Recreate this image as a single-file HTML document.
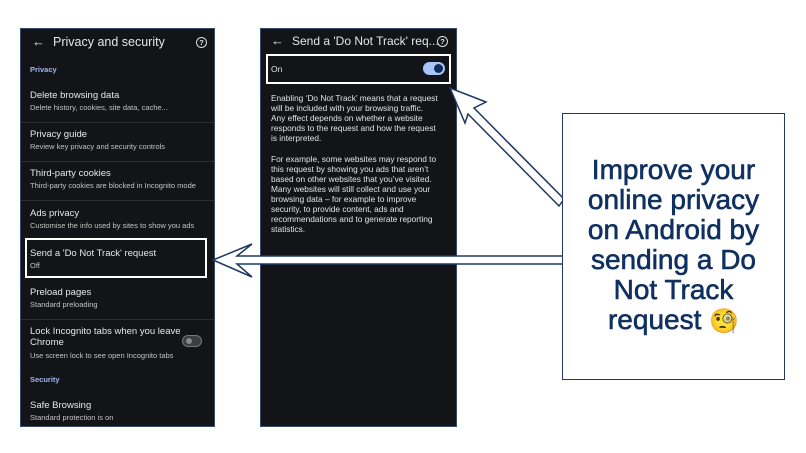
<!DOCTYPE html>
<html><head><meta charset="utf-8"><style>
body{margin:0;width:806px;height:453px;background:#fff;position:relative;overflow:hidden;font-family:"Liberation Sans",sans-serif}
.ph{position:absolute;background:#131418;border:1px solid #3a4a6a;color:#e6e6e6}
.t{position:absolute;white-space:nowrap}
.a{font-size:9.5px;color:#e8e8e8}
.s{font-size:7.5px;color:#c4c4c4}
.h{font-size:7.5px;color:#9fb6f0;font-weight:bold}
.d{position:absolute;left:0;right:0;height:1px;background:#2c2e33}
.p{position:absolute;left:10px;top:64px;font-size:8.3px;line-height:10.1px;color:#e4e4e4;width:168px}
.q{position:absolute;width:9px;height:9px;border:1.3px solid #ddd;border-radius:50%;font-size:7.5px;line-height:9px;text-align:center;font-weight:bold}
</style></head><body>
<div class="ph" style="left:20px;top:28px;width:193px;height:397px">
 <div class="t" style="left:11px;top:5px;font-size:13px">←</div>
 <div class="t" style="left:32px;top:6px;font-size:12.5px">Privacy and security</div>
 <div class="q" style="left:175px;top:8px">?</div>
 <div class="t h" style="left:9px;top:36px">Privacy</div>
 <div class="t a" style="left:9px;top:61px">Delete browsing data</div>
 <div class="t s" style="left:9px;top:74px">Delete history, cookies, site data, cache...</div>
 <div class="d" style="top:93px"></div>
 <div class="t a" style="left:9px;top:100px">Privacy guide</div>
 <div class="t s" style="left:9px;top:113px">Review key privacy and security controls</div>
 <div class="d" style="top:132px"></div>
 <div class="t a" style="left:9px;top:139px">Third-party cookies</div>
 <div class="t s" style="left:9px;top:152px">Third-party cookies are blocked in Incognito mode</div>
 <div class="d" style="top:171px"></div>
 <div class="t a" style="left:9px;top:179px">Ads privacy</div>
 <div class="t s" style="left:9px;top:192px">Customise the info used by sites to show you ads</div>
 <div style="position:absolute;left:4px;top:209px;width:182px;height:40px;border:2px solid #fff;box-sizing:border-box"></div>
 <div class="t a" style="left:9px;top:219px">Send a 'Do Not Track' request</div>
 <div class="t s" style="left:9px;top:232px">Off</div>
 <div class="t a" style="left:9px;top:258px">Preload pages</div>
 <div class="t s" style="left:9px;top:271px">Standard preloading</div>
 <div class="d" style="top:290px"></div>
 <div class="t a" style="left:9px;top:297px">Lock Incognito tabs when you leave</div>
 <div class="t a" style="left:9px;top:308px">Chrome</div>
 <div class="t s" style="left:9px;top:322px">Use screen lock to see open Incognito tabs</div>
 <div style="position:absolute;left:161px;top:306px;width:20px;height:12px;border-radius:6px;background:#3b3d42;border:1px solid #777;box-sizing:border-box"><div style="position:absolute;left:3px;top:2px;width:6px;height:6px;border-radius:50%;background:#888"></div></div>
 <div class="t h" style="left:9px;top:346px">Security</div>
 <div class="t a" style="left:9px;top:371px">Safe Browsing</div>
 <div class="t s" style="left:9px;top:384px">Standard protection is on</div>
</div>
<div class="ph" style="left:260px;top:28px;width:195px;height:397px">
 <div class="t" style="left:10px;top:4px;font-size:13px">←</div>
 <div class="t" style="left:31px;top:5px;font-size:12px">Send a 'Do Not Track' req...</div>
 <div class="q" style="left:176px;top:7px">?</div>
 <div style="position:absolute;left:5px;top:25px;width:185px;height:30px;border:2px solid #fff;box-sizing:border-box"></div>
 <div class="t" style="left:10px;top:35px;font-size:8.5px">On</div>
 <div style="position:absolute;left:162px;top:33px;width:22px;height:13px;border-radius:7px;background:#a8c4f8"><div style="position:absolute;left:11px;top:2px;width:9px;height:9px;border-radius:50%;background:#142a5c"></div></div>
 <div class="p">Enabling ‘Do Not Track’ means that a request will be included with your browsing traffic. Any effect depends on whether a website responds to the request and how the request is interpreted.<br><br>For example, some websites may respond to this request by showing you ads that aren’t based on other websites that you’ve visited. Many websites will still collect and use your browsing data – for example to improve security, to provide content, ads and recommendations and to generate reporting statistics.</div>
</div>
<svg width="806" height="453" style="position:absolute;left:0;top:0">
 <polygon points="213,260 252,244 237,256 563,256 563,264 237,264 252,277" fill="#fff" stroke="#1f3864" stroke-width="1.5" stroke-linejoin="miter"/>
 <polygon points="450,88 486,102 474,108 564,199 559,206 468,114 465,123" fill="#fff" stroke="#1f3864" stroke-width="1.5"/>
</svg>
<div style="position:absolute;left:562px;top:113px;width:223px;height:267px;border:1px solid #1f3864;box-sizing:border-box;background:#fff"></div>
<div style="position:absolute;left:562px;top:155px;width:223px;text-align:center;font-size:28px;line-height:30px;color:#0f3060;-webkit-text-stroke:0.6px #0f3060;font-family:'Liberation Sans',sans-serif">Improve your<br>online privacy<br>on Android by<br>sending a Do<br>Not Track<br>request <span style="font-family:'DejaVu Sans',sans-serif;font-size:24px;-webkit-text-stroke:0">🧐</span></div>
</body></html>
